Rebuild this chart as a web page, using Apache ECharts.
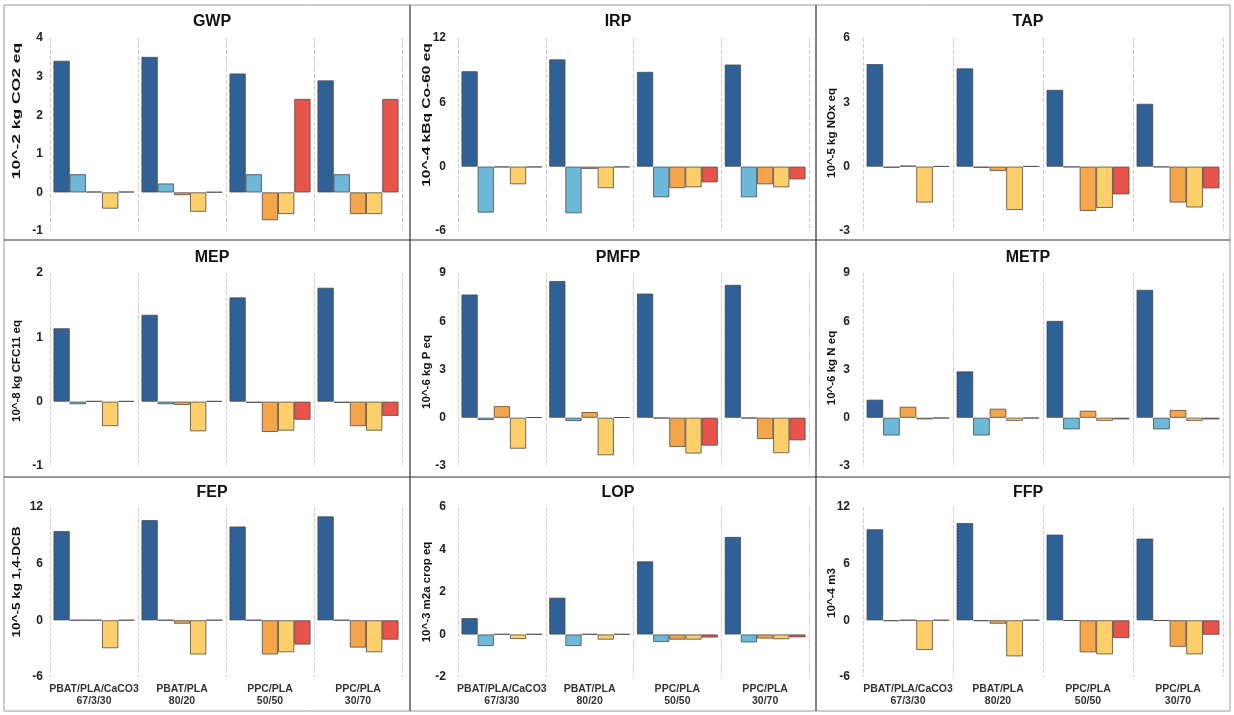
<!DOCTYPE html>
<html>
<head>
    <meta charset="utf-8">
    <title>ECharts</title>
    <script src="https://cdn.jsdelivr.net/npm/echarts@6/dist/echarts.min.js"></script>
    <style>
        body { margin: 0; background: #fff; }
    </style>
</head>
<body>
    <div id="main" style="width: 1234px;height:715px;"></div>
    <script type="text/javascript">
        // blends on the x axis
        var categories = ['PBAT/PLA/CaCO3\n67/3/30', 'PBAT/PLA\n80/20', 'PPC/PLA\n50/50', 'PPC/PLA\n30/70'];

        // impact categories and their units
        var panelNames = ['GWP', 'IRP', 'TAP', 'MEP', 'PMFP', 'METP', 'FEP', 'LOP', 'FFP'];
        var unitNames = ['10^-2 kg CO2 eq', '10^-4 kBq Co-60 eq', '10^-5 kg NOx eq',
            '10^-8 kg CFC11 eq', '10^-6 kg P eq', '10^-6 kg N eq',
            '10^-5 kg 1,4-DCB', '10^-3 m2a crop eq', '10^-4 m3'];

        // y axis ticks: min, max, step
        var yMin = [-1, -6, -3, -1, -3, -3, -6, -2, -6];
        var yMax = [4, 12, 6, 2, 9, 9, 12, 6, 12];
        var yStep = [1, 6, 3, 1, 3, 3, 6, 2, 6];

        // five bars per blend (rows), four blends (columns)
        var gwp = [
            [3.41, 3.51, 3.08, 2.90],
            [0.47, 0.23, 0.47, 0.47],
            [0.02, -0.07, -0.72, -0.56],
            [-0.42, -0.50, -0.56, -0.56],
            [0.02, 0.01, 2.42, 2.42]
        ];
        var irp = [
            [8.90, 10.0, 8.84, 9.52],
            [-4.28, -4.34, -2.85, -2.85],
            [-0.05, -0.20, -2.00, -1.64],
            [-1.64, -2.00, -1.92, -1.92],
            [-0.05, -0.05, -1.46, -1.18]
        ];
        var tap = [
            [4.78, 4.58, 3.58, 2.93],
            [-0.05, -0.05, -0.02, -0.02],
            [0.05, -0.20, -2.06, -1.67],
            [-1.67, -2.02, -1.92, -1.90],
            [0.02, 0.02, -1.29, -1.01]
        ];
        var mep = [
            [1.14, 1.35, 1.62, 1.77],
            [-0.04, -0.04, -0.02, -0.02],
            [0.01, -0.05, -0.47, -0.38],
            [-0.38, -0.46, -0.45, -0.45],
            [0.01, 0.01, -0.28, -0.22]
        ];
        var pmfp = [
            [7.66, 8.50, 7.72, 8.26],
            [-0.14, -0.20, -0.03, -0.03],
            [0.72, 0.35, -1.81, -1.32],
            [-1.92, -2.33, -2.22, -2.20],
            [0.03, 0.03, -1.73, -1.40]
        ];
        var metp = [
            [1.12, 2.88, 6.02, 7.95],
            [-1.10, -1.10, -0.72, -0.72],
            [0.68, 0.56, 0.43, 0.48],
            [-0.10, -0.19, -0.19, -0.19],
            [-0.03, -0.03, -0.10, -0.10]
        ];
        var fep = [
            [9.44, 10.6, 9.93, 11.0],
            [0.03, 0.03, 0.03, 0.03],
            [0.03, -0.35, -3.61, -2.88],
            [-2.95, -3.61, -3.37, -3.37],
            [0.03, 0.03, -2.56, -2.04]
        ];
        var lop = [
            [0.77, 1.73, 3.44, 4.59],
            [-0.54, -0.54, -0.35, -0.37],
            [0.02, 0.02, -0.24, -0.19],
            [-0.21, -0.24, -0.24, -0.22],
            [0.02, 0.02, -0.14, -0.13]
        ];
        var ffp = [
            [9.64, 10.3, 9.07, 8.65],
            [-0.07, -0.07, -0.03, -0.03],
            [0.03, -0.35, -3.39, -2.79],
            [-3.14, -3.81, -3.60, -3.60],
            [0.03, 0.03, -1.87, -1.52]
        ];
        var panelData = [gwp, irp, tap, mep, pmfp, metp, fep, lop, ffp];

        var barColors = ['#2f6196', '#6db9d9', '#f5a54a', '#ffcf6b', '#e8534a'];

        // layout of the 3x3 panels
        var colLeft = [50, 458, 863];
        var colWidth = [352, 351, 360];
        var rowTop = [38, 273, 507];
        var rowHeight = [193, 193, 170];
        var titleX = [207, 613, 1023];
        var titleY = [9, 245, 480];
        var labelMargin = [7, 12, 13];
        // unit titles beside each y axis (centre x, centre y, stretch)
        var nameX = [17, 427, 832];
        var nameY = [111, 115, 133, 371, 372, 368, 582, 592, 593];
        var nameStretch = [1.52, 1.35, 1, 1, 1, 1, 1.18, 1, 1];

        var font = 'Liberation Sans, Arial, sans-serif';
        var titles = [], grids = [], xAxes = [], yAxes = [], series = [];
        var graphics = [
            { type: 'rect', shape: { x: 4, y: 5, width: 1226, height: 706 }, style: { fill: 'none', stroke: '#9a9a9a', lineWidth: 1 } },
            { type: 'line', shape: { x1: 410, y1: 5, x2: 410, y2: 711 }, style: { stroke: '#333', lineWidth: 1.2 } },
            { type: 'line', shape: { x1: 816, y1: 5, x2: 816, y2: 711 }, style: { stroke: '#333', lineWidth: 1.2 } },
            { type: 'line', shape: { x1: 4, y1: 240, x2: 1230, y2: 240 }, style: { stroke: '#333', lineWidth: 1.2 } },
            { type: 'line', shape: { x1: 4, y1: 477, x2: 1230, y2: 477 }, style: { stroke: '#333', lineWidth: 1.2 } }
        ];

        for (var i = 0; i < 9; i++) {
            var r = Math.floor(i / 3), c = i % 3;
            titles.push({
                text: panelNames[i],
                left: titleX[c],
                top: titleY[r],
                textAlign: 'center',
                textStyle: { fontFamily: font, fontSize: 16, fontWeight: 'bold', color: '#111' }
            });
            grids.push({ left: colLeft[c], top: rowTop[r], width: colWidth[c], height: rowHeight[r] });
            xAxes.push({
                gridIndex: i,
                type: 'category',
                data: categories,
                axisLine: { show: false },
                axisTick: { show: false },
                axisLabel: {
                    show: r == 2,
                    fontFamily: font, fontSize: 10.5, fontWeight: 'bold', color: '#333',
                    lineHeight: 12, margin: 6, interval: 0
                },
                splitLine: { show: true, lineStyle: { type: 'dashed', color: '#dccaca', width: 1 } }
            });
            yAxes.push({
                gridIndex: i,
                type: 'value',
                min: yMin[i],
                max: yMax[i],
                interval: yStep[i],
                axisLine: { show: false },
                axisTick: { show: false },
                splitLine: { show: false },
                axisLabel: { fontFamily: font, fontSize: 12, fontWeight: 'bold', color: '#222', margin: labelMargin[c] }
            });
            graphics.push({
                type: 'text',
                x: nameX[c],
                y: nameY[i],
                rotation: Math.PI / 2,
                scaleX: nameStretch[i],
                style: {
                    text: unitNames[i],
                    align: 'center',
                    verticalAlign: 'middle',
                    font: 'bold 11.5px ' + font,
                    fill: '#111'
                }
            });
            for (var k = 0; k < 5; k++) {
                series.push({
                    name: 'bar' + (k + 1),
                    type: 'bar',
                    xAxisIndex: i,
                    yAxisIndex: i,
                    barGap: '0%',
                    barCategoryGap: '8%',
                    itemStyle: { color: barColors[k], borderColor: '#4a4a4a', borderWidth: 0.8 },
                    data: panelData[i][k]
                });
            }
        }

        var myChart = echarts.init(document.getElementById('main'));
        option = {
            animation: false,
            backgroundColor: '#fff',
            title: titles,
            grid: grids,
            xAxis: xAxes,
            yAxis: yAxes,
            series: series,
            graphic: graphics
        };

        myChart.setOption(option);
    </script>
</body>
</html>
